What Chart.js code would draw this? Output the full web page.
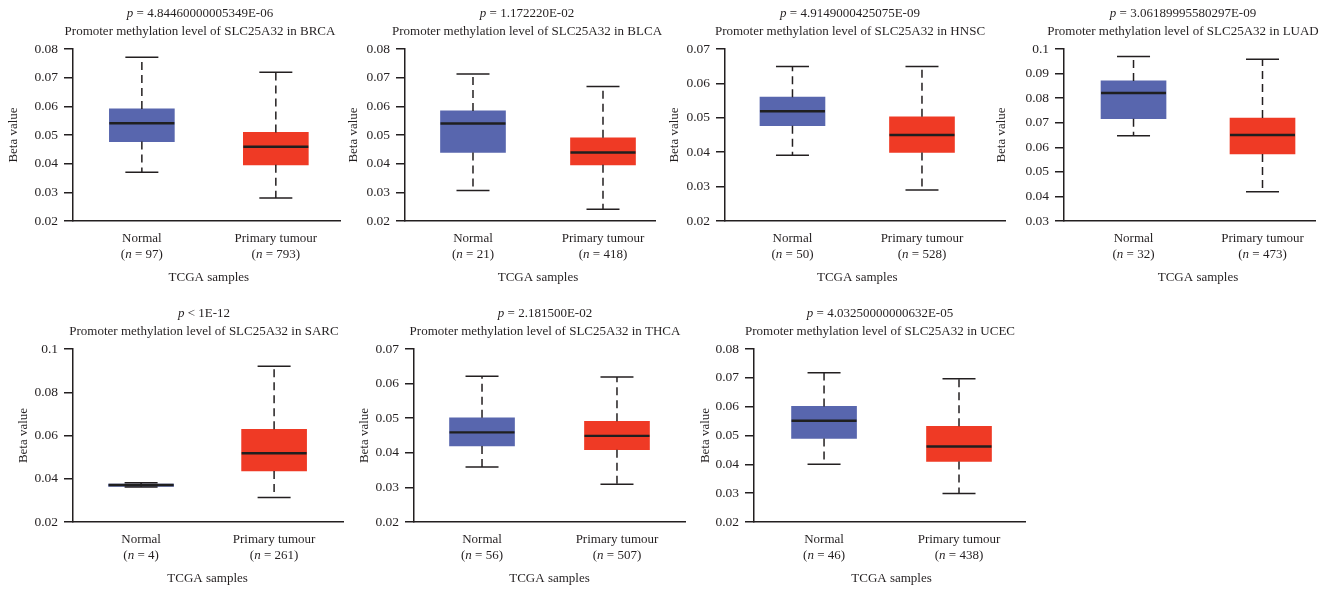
<!DOCTYPE html>
<html>
<head>
<title>SLC25A32 promoter methylation</title>
<script src="https://cdn.jsdelivr.net/npm/chart.js"></script>
<style>
  body { margin: 0; background: #fff; width: 1335px; height: 589px; position: relative; overflow: hidden; }
  canvas { position: absolute; }
</style>
</head>
<body>
<script>
// data
const cancers = ['BRCA', 'BLCA', 'HNSC', 'LUAD', 'SARC', 'THCA', 'UCEC'];
const pRel = ['=', '=', '=', '=', '<', '=', '='];
const pVals = ['4.84460000005349E-06', '1.172220E-02', '4.9149000425075E-09', '3.06189995580297E-09',
               '1E-12', '2.181500E-02', '4.03250000000632E-05'];
const groups = ['Normal', 'Primary tumour'];
const normalN = [97, 21, 50, 32, 4, 56, 46];
const tumourN = [793, 418, 528, 473, 261, 507, 438];

const normalMax = [0.0771, 0.0713, 0.0649, 0.0969, 0.0382, 0.0621, 0.0718];
const normalQ3  = [0.0591, 0.0584, 0.0560, 0.0870, 0.0375, 0.0501, 0.0601];
const normalMed = [0.0541, 0.0540, 0.0519, 0.0821, 0.0371, 0.0459, 0.0551];
const normalQ1  = [0.0477, 0.0439, 0.0477, 0.0716, 0.0365, 0.0420, 0.0490];
const normalMin = [0.0370, 0.0306, 0.0391, 0.0647, 0.0362, 0.0359, 0.0400];

const tumourMax = [0.0719, 0.0669, 0.0649, 0.0958, 0.0920, 0.0619, 0.0697];
const tumourQ3  = [0.0509, 0.0490, 0.0503, 0.0719, 0.0629, 0.0491, 0.0532];
const tumourMed = [0.0459, 0.0439, 0.0450, 0.0650, 0.0518, 0.0449, 0.0462];
const tumourQ1  = [0.0396, 0.0396, 0.0399, 0.0573, 0.0436, 0.0409, 0.0410];
const tumourMin = [0.0280, 0.0241, 0.0290, 0.0419, 0.0313, 0.0309, 0.0299];

const yMin  = [0.02, 0.02, 0.02, 0.03, 0.02, 0.02, 0.02];
const yMax  = [0.08, 0.08, 0.07, 0.10, 0.10, 0.07, 0.08];
const yStep = [0.01, 0.01, 0.01, 0.01, 0.02, 0.01, 0.01];

const colors = ['#5866ae', '#ef3a25'];
const ink = '#231f20';
const FONT = '"Liberation Serif", "Times New Roman", serif';
const FS = 13;

// where each panel sits on the page
const rows = [
  { top: 0, plotTop: 49, plotBottom: 221 },
  { top: 298, plotTop: 349, plotBottom: 522 }
];
const panels = [
  { row: 0, left: 6,    axisX: 73,   axisEnd: 340,  xMin: 0.486, xMax: 2.479, titleX: 200 },
  { row: 0, left: 346,  axisX: 405,  axisEnd: 655,  xMin: 0.477, xMax: 2.400, titleX: 527 },
  { row: 0, left: 667,  axisX: 725,  axisEnd: 1005, xMin: 0.479, xMax: 2.641, titleX: 850 },
  { row: 0, left: 994,  axisX: 1064, axisEnd: 1315, xMin: 0.461, xMax: 2.407, titleX: 1183 },
  { row: 1, left: 16,   axisX: 73,   axisEnd: 343,  xMin: 0.488, xMax: 2.518, titleX: 204 },
  { row: 1, left: 357,  axisX: 414,  axisEnd: 685,  xMin: 0.496, xMax: 2.504, titleX: 545 },
  { row: 1, left: 698,  axisX: 754,  axisEnd: 1025, xMin: 0.481, xMax: 2.489, titleX: 880 }
];
const CANVAS_H = 292;
const BOX_W = 65;
const CAP_W = 33;

function mixedText(ctx, parts, cx, cy) {
  let total = 0;
  parts.forEach(p => {
    ctx.font = (p.it ? 'italic ' : '') + FS + 'px ' + FONT;
    p.w = ctx.measureText(p.t).width;
    total += p.w;
  });
  let x = cx - total / 2;
  ctx.textAlign = 'left';
  ctx.textBaseline = 'middle';
  parts.forEach(p => {
    ctx.font = (p.it ? 'italic ' : '') + FS + 'px ' + FONT;
    ctx.fillText(p.t, x, cy);
    x += p.w;
  });
}

const boxPlugin = {
  id: 'boxes',
  afterDatasetsDraw(chart) {
    const i = chart.options.panelIndex;
    const { ctx, scales: { x, y } } = chart;
    const stats = [
      [normalMin[i], normalQ1[i], normalMed[i], normalQ3[i], normalMax[i]],
      [tumourMin[i], tumourQ1[i], tumourMed[i], tumourQ3[i], tumourMax[i]]
    ];
    ctx.save();
    stats.forEach((s, g) => {
      const px = x.getPixelForValue(g + 1);
      ctx.strokeStyle = ink;
      ctx.lineWidth = 1.5;
      // dashed whiskers
      ctx.setLineDash([8, 5]);
      ctx.beginPath();
      ctx.moveTo(px, y.getPixelForValue(s[3]));
      ctx.lineTo(px, y.getPixelForValue(s[4]));
      ctx.moveTo(px, y.getPixelForValue(s[1]));
      ctx.lineTo(px, y.getPixelForValue(s[0]));
      ctx.stroke();
      ctx.setLineDash([]);
      // caps
      ctx.beginPath();
      [s[0], s[4]].forEach(v => {
        const py = y.getPixelForValue(v);
        ctx.moveTo(px - CAP_W / 2, py);
        ctx.lineTo(px + CAP_W / 2, py);
      });
      ctx.stroke();
      // median
      ctx.lineWidth = 2.4;
      ctx.strokeStyle = '#1f1f1f';
      ctx.beginPath();
      const my = y.getPixelForValue(s[2]);
      ctx.moveTo(px - BOX_W / 2, my);
      ctx.lineTo(px + BOX_W / 2, my);
      ctx.stroke();
    });
    ctx.restore();
  },
  afterDraw(chart) {
    const i = chart.options.panelIndex;
    const p = panels[i];
    const { ctx, scales: { x } } = chart;
    const top = chart.chartArea.top;
    const bottom = chart.chartArea.bottom;
    ctx.save();
    ctx.fillStyle = ink;
    const tx = p.titleX - p.left;
    mixedText(ctx, [{ t: 'p', it: true }, { t: ' ' + pRel[i] + ' ' + pVals[i] }], tx, top - 35);
    mixedText(ctx, [{ t: 'Promoter methylation level of SLC25A32 in ' + cancers[i] }], tx, top - 17);
    const ns = [normalN[i], tumourN[i]];
    groups.forEach((g, k) => {
      const px = x.getPixelForValue(k + 1);
      mixedText(ctx, [{ t: g }], px, bottom + 18);
      mixedText(ctx, [{ t: '(' }, { t: 'n', it: true }, { t: ' = ' + ns[k] + ')' }], px, bottom + 34);
    });
    mixedText(ctx, [{ t: 'TCGA samples' }], x.getPixelForValue(1.5), bottom + 57);
    ctx.restore();
  }
};

panels.forEach((p, i) => {
  const r = rows[p.row];
  const cw = p.axisEnd + 30 - p.left;
  const canvas = document.createElement('canvas');
  canvas.width = cw;
  canvas.height = CANVAS_H;
  canvas.style.left = p.left + 'px';
  canvas.style.top = r.top + 'px';
  document.body.appendChild(canvas);

  new Chart(canvas, {
    type: 'bar',
    data: {
      datasets: [{
        data: [
          { x: 1, y: [normalQ1[i], normalQ3[i]] },
          { x: 2, y: [tumourQ1[i], tumourQ3[i]] }
        ],
        backgroundColor: colors,
        borderWidth: 0,
        barThickness: BOX_W
      }]
    },
    options: {
      panelIndex: i,
      responsive: false,
      animation: false,
      events: [],
      layout: { padding: { top: r.plotTop - r.top, right: 30, left: 0, bottom: 0 } },
      plugins: { legend: { display: false }, tooltip: { enabled: false } },
      scales: {
        x: {
          type: 'linear',
          offset: false,
          min: p.xMin,
          max: p.xMax,
          ticks: { display: false },
          grid: { display: false },
          border: { color: ink, width: 1.5 },
          afterFit: s => { s.height = CANVAS_H - (r.plotBottom - r.top); }
        },
        y: {
          min: yMin[i],
          max: yMax[i],
          ticks: {
            stepSize: yStep[i],
            color: ink,
            padding: 6,
            font: { family: FONT, size: 13.5 },
            callback: v => String(parseFloat(v.toFixed(3)))
          },
          grid: { drawOnChartArea: false, tickLength: 9, color: ink, lineWidth: 1.5 },
          border: { color: ink, width: 1.5 },
          title: { display: true, text: 'Beta value', color: ink, padding: 0, font: { family: FONT, size: FS } },
          afterFit: s => { s.width = p.axisX - p.left; }
        }
      }
    },
    plugins: [boxPlugin]
  });
});
</script>
</body>
</html>
